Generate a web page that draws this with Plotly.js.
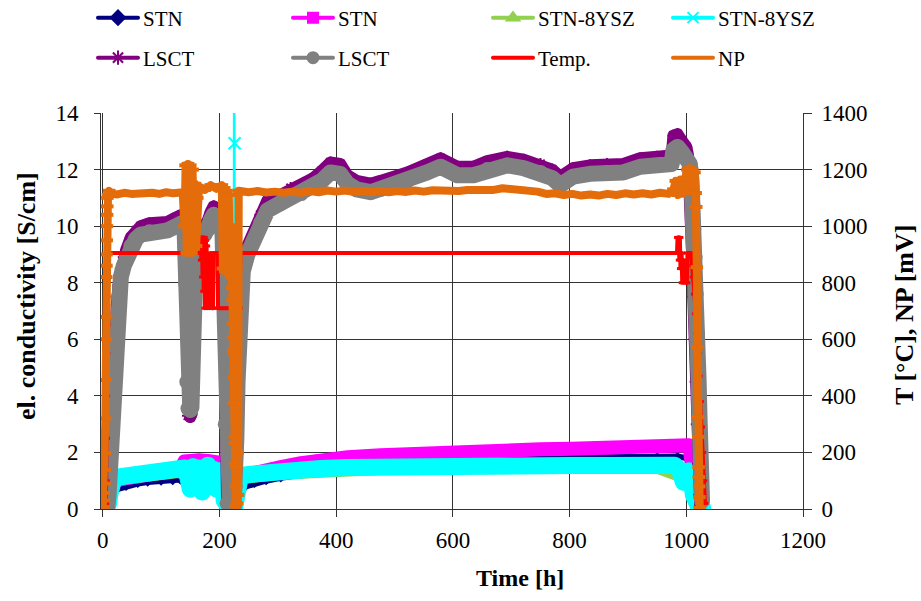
<!DOCTYPE html>
<html>
<head>
<meta charset="utf-8">
<script src="https://cdn.plot.ly/plotly-3.0.1.min.js"></script>
<style>
  html, body { margin: 0; padding: 0; background: #fff; }
  #chart { width: 921px; height: 601px; }
  .js-line { stroke-linejoin: round; stroke-linecap: round; }
</style>
</head>
<body>
<div id="chart"></div>
<script>
// ---- conductivity, STN (navy) ----
const stnA_t = [0, 4, 8, 10, 12, 15, 19, 25, 40, 60, 77, 100, 120, 133, 140, 145, 148, 152, 170, 195, 205, 208, 212, 220, 226, 229, 232, 236, 245, 260, 280, 305, 340, 373, 420, 476, 530, 591, 650, 700, 750, 803, 850, 900, 950, 985, 1000, 1008, 1012, 1016, 1022, 1028];
const stnA_v = [0.05, 0.05, 0.05, 0.1, 0.3, 0.5, 0.62, 0.7, 0.8, 0.9, 0.95, 0.98, 1.0, 1.02, 1.05, 0.6, 0.6, 1.1, 1.15, 1.15, 1.1, 0.3, 0.05, 0.05, 0.05, 0.3, 0.55, 0.72, 0.8, 0.9, 1.0, 1.1, 1.22, 1.3, 1.4, 1.5, 1.58, 1.66, 1.72, 1.76, 1.79, 1.82, 1.83, 1.84, 1.85, 1.86, 1.8, 1.6, 0.8, 0.2, 0.05, 0.05];

// ---- conductivity, STN (magenta) ----
const stnB_t = [0, 5, 9, 11, 13, 16, 19, 30, 50, 77, 100, 120, 133, 140, 150, 165, 180, 195, 205, 208, 212, 220, 226, 229, 233, 236, 250, 270, 305, 340, 373, 420, 476, 530, 591, 650, 700, 750, 803, 850, 900, 960, 995, 1005, 1010, 1014, 1018, 1024, 1028];
const stnB_v = [0.05, 0.05, 0.05, 0.15, 0.45, 0.75, 0.95, 1.05, 1.12, 1.2, 1.27, 1.33, 1.4, 1.68, 1.72, 1.72, 1.7, 1.7, 1.62, 0.4, 0.05, 0.05, 0.05, 0.4, 0.8, 1.1, 1.22, 1.35, 1.48, 1.62, 1.75, 1.83, 1.9, 1.96, 2.02, 2.06, 2.09, 2.11, 2.13, 2.16, 2.19, 2.25, 2.3, 2.25, 1.5, 0.6, 0.2, 0.05, 0.05];

// ---- conductivity, STN-8YSZ (green) ----
const ysA_t = [0, 8, 12, 17, 30, 77, 133, 150, 170, 190, 205, 208, 212, 226, 230, 236, 305, 476, 700, 950, 990, 1005, 1012, 1020];
const ysA_v = [0.05, 0.05, 0.45, 0.95, 1.1, 1.2, 1.35, 1.1, 1.2, 1.1, 1.25, 0.3, 0.05, 0.05, 0.7, 1.12, 1.28, 1.45, 1.48, 1.5, 1.2, 1.3, 0.4, 0.05];

// ---- conductivity, STN-8YSZ (cyan) ----
const ysB_t = [0, 5, 8, 10, 12, 14, 17, 19, 30, 50, 77, 100, 120, 133, 140, 145, 150, 155, 160, 165, 170, 175, 180, 185, 190, 195, 200, 205, 208, 212, 218, 226, 229, 232, 236, 250, 270, 305, 340, 373, 420, 476, 530, 591, 650, 700, 750, 803, 850, 900, 950, 980, 988, 995, 1000, 1005, 1008, 1012, 1016, 1022, 1028];
const ysB_v = [0.05, 0.05, 0.05, 0.2, 0.5, 0.85, 1.02, 1.08, 1.14, 1.19, 1.25, 1.3, 1.35, 1.4, 1.45, 1.2, 0.7, 1.5, 0.9, 1.45, 0.6, 1.3, 1.55, 0.8, 1.4, 0.7, 1.35, 1.3, 0.3, 0.05, 0.05, 0.05, 0.6, 0.9, 1.18, 1.22, 1.27, 1.32, 1.38, 1.43, 1.47, 1.5, 1.5, 1.5, 1.51, 1.52, 1.53, 1.54, 1.54, 1.55, 1.55, 1.55, 1.4, 0.95, 1.0, 1.35, 1.2, 0.5, 0.1, 0.05, 0.05];
// single outlier reading of the cyan sample
const ysB_spike_t = [224, 225, 226, 227];
const ysB_spike_v = [0.1, 20, 12.93, 0.3];

// ---- conductivity, LSCT (purple) ----
const lsA_t = [0, 4, 8, 10, 12, 14, 16, 18, 20, 22, 24, 27, 31, 36, 40, 48, 57, 65, 80, 95, 111, 125, 135, 140, 142, 144, 146, 150, 152, 154, 156, 160, 166, 170, 175, 180, 185, 190, 196, 200, 205, 208, 210, 213, 218, 224, 227, 229, 231, 233, 236, 240, 248, 259, 270, 282, 295, 305, 322, 340, 361, 375, 390, 407, 419, 435, 459, 476, 493, 522, 556, 579, 608, 635, 659, 693, 721, 750, 770, 784, 806, 835, 864, 892, 921, 950, 967, 975, 978, 985, 993, 1000, 1003, 1006, 1008, 1010, 1012, 1014, 1016, 1018, 1020, 1022, 1024];
const lsA_v = [0.1, 0.1, 0.2, 0.8, 2.0, 3.0, 4.0, 5.0, 5.8, 6.5, 7.2, 7.9, 8.5, 8.9, 9.15, 9.6, 9.85, 10.0, 10.1, 10.1, 10.15, 10.3, 10.4, 10.3, 8.2, 4.5, 3.3, 3.25, 3.35, 6.2, 9.2, 9.7, 9.8, 9.9, 10.0, 10.2, 10.5, 10.7, 10.6, 10.4, 10.2, 7.8, 3.2, 0.2, 0.1, 0.1, 0.9, 2.7, 4.8, 6.8, 7.9, 8.7, 9.3, 9.8, 10.4, 10.9, 11.0, 11.1, 11.35, 11.45, 11.7, 11.95, 12.25, 12.2, 11.8, 11.6, 11.5, 11.6, 11.7, 11.9, 12.2, 12.4, 12.1, 12.1, 12.3, 12.45, 12.35, 12.2, 12.0, 11.75, 12.05, 12.15, 12.2, 12.2, 12.4, 12.45, 12.5, 12.5, 13.2, 13.25, 13.0, 12.8, 12.5, 11.5, 10.2, 9.0, 7.5, 6.0, 4.5, 3.0, 1.6, 0.5, 0.1];

// ---- conductivity, LSCT (grey) ----
const lsB_t = [0, 4, 8, 10, 12, 14, 16, 18, 20, 22, 24, 27, 31, 36, 40, 48, 57, 65, 80, 95, 111, 125, 135, 140, 142, 144, 146, 150, 152, 154, 156, 160, 166, 170, 175, 180, 185, 190, 196, 200, 205, 208, 210, 213, 218, 224, 227, 229, 231, 233, 236, 240, 248, 259, 270, 282, 295, 305, 322, 340, 361, 375, 390, 407, 419, 435, 459, 476, 493, 522, 556, 579, 608, 635, 659, 693, 721, 750, 770, 784, 806, 835, 864, 892, 921, 950, 967, 975, 978, 985, 993, 1000, 1006, 1009, 1011, 1013, 1015, 1017, 1019, 1021, 1023, 1025, 1027];
const lsB_v = [0.1, 0.1, 0.1, 0.5, 1.5, 2.5, 3.5, 4.45, 5.3, 6.0, 6.8, 7.5, 8.2, 8.6, 8.85, 9.3, 9.55, 9.7, 9.8, 9.8, 9.85, 10.0, 10.1, 10.0, 8.0, 4.5, 3.55, 3.5, 3.6, 6.0, 9.0, 9.4, 9.5, 9.6, 9.7, 9.9, 10.2, 10.4, 10.3, 10.1, 9.9, 7.5, 3.0, 0.2, 0.1, 0.1, 0.8, 2.5, 4.5, 6.5, 7.6, 8.4, 9.0, 9.5, 10.1, 10.55, 10.7, 10.8, 11.05, 11.15, 11.4, 11.6, 11.9, 11.85, 11.5, 11.3, 11.2, 11.3, 11.4, 11.6, 11.9, 12.1, 11.8, 11.8, 12.0, 12.15, 12.05, 11.9, 11.7, 11.45, 11.75, 11.85, 11.9, 11.9, 12.1, 12.15, 12.2, 12.2, 12.7, 12.8, 12.6, 12.4, 12.2, 11.6, 10.8, 9.9, 8.9, 7.6, 6.2, 4.6, 3.0, 1.4, 0.3];

// ---- furnace temperature [°C] ----
const temp_t = [0, 5, 6, 6.3, 6.6, 6.9, 7.2, 7.5, 7.8, 8.2, 12, 60, 120, 167, 168, 169, 170, 171, 172, 173, 174, 175, 176, 178, 179, 181, 183, 185, 187, 189, 190, 197, 197.5, 205, 215, 222, 224, 226, 228, 230, 232, 234, 236, 300, 500, 700, 900, 984, 985, 986, 987, 988, 989, 990, 992, 993, 995, 996, 998, 999, 1001, 1002, 1008, 1010, 1012, 1014, 1016, 1018, 1020, 1022, 1024, 1026, 1028, 1030, 1032];
const temp_v = [20, 20, 100, 250, 400, 550, 650, 750, 850, 905, 905, 905, 905, 905, 960, 880, 960, 820, 960, 770, 960, 710, 950, 930, 710, 900, 710, 905, 710, 710, 905, 905, 710, 710, 710, 710, 905, 710, 905, 710, 905, 710, 905, 905, 905, 905, 905, 905, 960, 905, 960, 880, 960, 850, 905, 800, 880, 800, 860, 800, 800, 905, 905, 860, 820, 760, 690, 620, 550, 470, 380, 290, 200, 100, 20];

// ---- Nernst potential [mV] ----
const np_t = [0, 1, 2, 3, 3.5, 4, 4.5, 5, 5.3, 5.6, 5.9, 6.2, 6.5, 6.8, 7.1, 7.4, 7.7, 8, 9, 11,
  14, 25, 37, 49, 61, 73, 85, 97, 109, 121, 133,
  137, 140, 142, 144, 146, 148, 150, 152, 154, 156, 158, 160, 162, 165,
  175, 185, 195, 204,
  206, 208, 210, 212, 214, 216, 218, 220, 221, 222, 222.5, 223, 223.5, 224, 224.5, 225, 225.5, 226, 226.5, 227, 227.5, 228, 229, 230, 231, 232, 233,
  236, 250, 265, 280, 295, 310, 325, 340, 355, 370, 385, 400, 415, 430, 445, 460, 475, 490, 505, 520, 535, 550, 565, 580, 595, 610, 625, 640, 655, 670, 685, 700, 715, 730, 745, 760, 775, 790, 805, 820, 835, 850, 865, 880, 895, 910, 925, 940, 955, 970,
  978, 982, 986, 990, 994, 998, 1002, 1004, 1006, 1008, 1010, 1012, 1014, 1016, 1017, 1018, 1019, 1020, 1020.5, 1021, 1021.5, 1022, 1022.5, 1023];
const np_v = [5, 57, 30, 90, 138, 198, 320, 456, 600, 679, 820, 860, 900, 950, 1000, 1040, 1070, 1100, 1110, 1125,
  1115, 1112, 1118, 1114, 1117, 1113, 1118, 1114, 1120, 1116, 1122,
  1120, 1000, 1215, 905, 1220, 910, 1215, 905, 1200, 920, 1150, 930, 1100, 1140,
  1128, 1145, 1132, 1145,
  850, 1135, 840, 1125, 835, 1110, 845, 1000, 820, 781, 739, 657, 608, 562, 551, 467, 375, 255, 233, 160, 80, 10, 150, 20, 200, 50, 1125,
  1124, 1120, 1124, 1119, 1122, 1118, 1122, 1118, 1124, 1120, 1126, 1122, 1126, 1121, 1124, 1120, 1124, 1120, 1124, 1121, 1126, 1122, 1127, 1124, 1127, 1124, 1128, 1126, 1130, 1128, 1134, 1132, 1132, 1124, 1122, 1114, 1116, 1110, 1114, 1108, 1112, 1108, 1114, 1110, 1116, 1112, 1116, 1112, 1118, 1114,
  1130, 1160, 1110, 1165, 1115, 1170, 1200, 1130, 1205, 1125, 1200, 1120, 1190, 1117, 1068, 855, 573, 325, 255, 148, 113, 80, 42, 4];

const FONT = 'Liberation Serif';
const C = {
  navy: '#000080', magenta: '#FF00FF', green: '#92D050', cyan: '#00FFFF',
  purple: '#800080', grey: '#808080', red: '#FF0000', orange: '#E46C0A'
};

const traces = [
  { x: stnA_t, y: stnA_v, mode: 'lines+markers', line: { color: C.navy, width: 6 },
    marker: { symbol: 'diamond', size: 7, color: C.navy }, showlegend: false, hoverinfo: 'skip' },
  { x: stnB_t, y: stnB_v, mode: 'lines+markers', line: { color: C.magenta, width: 14 },
    marker: { symbol: 'square', size: 10, color: C.magenta }, showlegend: false, hoverinfo: 'skip' },
  { x: ysA_t, y: ysA_v, mode: 'lines+markers', line: { color: C.green, width: 14 },
    marker: { symbol: 'triangle-up', size: 10, color: C.green }, showlegend: false, hoverinfo: 'skip' },
  { x: ysB_t, y: ysB_v, mode: 'lines+markers', line: { color: C.cyan, width: 17 },
    marker: { symbol: 'x-thin-open', size: 10, color: C.cyan, line: { width: 2, color: C.cyan } }, showlegend: false, hoverinfo: 'skip' },
  { x: ysB_spike_t, y: ysB_spike_v, mode: 'lines+markers', line: { color: C.cyan, width: 2 },
    marker: { symbol: 'x-thin-open', size: 12, color: C.cyan, line: { width: 2, color: C.cyan } }, showlegend: false, hoverinfo: 'skip' },
  { x: lsA_t, y: lsA_v, mode: 'lines+markers', line: { color: C.purple, width: 12 },
    marker: { symbol: 'asterisk-open', size: 10, color: C.purple, line: { width: 2, color: C.purple } }, showlegend: false, hoverinfo: 'skip' },
  { x: lsB_t, y: lsB_v, mode: 'lines+markers', line: { color: C.grey, width: 16 },
    marker: { symbol: 'circle', size: 15, color: C.grey }, showlegend: false, hoverinfo: 'skip' },
  { x: temp_t, y: temp_v, yaxis: 'y2', mode: 'lines+markers', line: { color: C.red, width: 4 },
    marker: { symbol: 'line-ew-open', size: 5, color: C.red, line: { width: 3, color: C.red } }, showlegend: false, hoverinfo: 'skip' },
  { x: np_t, y: np_v, yaxis: 'y2', mode: 'lines+markers', line: { color: C.orange, width: 8 },
    marker: { symbol: 'line-ew-open', size: 9, color: C.orange, line: { width: 4, color: C.orange } }, showlegend: false, hoverinfo: 'skip' }
];

// legend keys: each in its own legend box, laid out in two rows of four
function key(name, color, symbol, size, legend, yaxis) {
  return {
    x: [null], y: [null], name: name, legend: legend, yaxis: yaxis || 'y',
    mode: 'lines+markers', line: { color: color, width: 4 },
    marker: { symbol: symbol, size: size, color: color, line: { width: 2, color: color } },
    hoverinfo: 'skip'
  };
}
traces.push(
  key('STN', C.navy, 'diamond', 11, 'legend'),
  key('STN', C.magenta, 'square', 10, 'legend2'),
  key('STN-8YSZ', C.green, 'triangle-up', 11, 'legend3'),
  key('STN-8YSZ', C.cyan, 'x-thin-open', 11, 'legend4'),
  key('LSCT', C.purple, 'asterisk-open', 12, 'legend5'),
  key('LSCT', C.grey, 'circle', 11, 'legend6'),
  key('Temp.', C.red, 'line-ew-open', 4, 'legend7', 'y2'),
  key('NP', C.orange, 'line-ew-open', 4, 'legend8', 'y2')
);

const colX = [93, 288, 488, 668];   // left edge of each legend column, px
const rowY = [18, 58];              // centre line of each legend row, px
function legendAt(col, row) {
  return {
    orientation: 'h', xref: 'container', yref: 'container',
    xanchor: 'left', yanchor: 'middle',
    x: colX[col] / 921, y: 1 - rowY[row] / 601, itemwidth: 40,
    font: { family: FONT, size: 21, color: '#000' },
    bgcolor: 'rgba(0,0,0,0)', itemclick: false, itemdoubleclick: false
  };
}

const layout = {
  width: 921, height: 601,
  margin: { l: 101, r: 118, t: 113, b: 92, pad: 0, autoexpand: false },
  paper_bgcolor: '#fff', plot_bgcolor: '#fff',
  font: { family: FONT, size: 23, color: '#000' },
  showlegend: true,
  legend: legendAt(0, 0), legend2: legendAt(1, 0), legend3: legendAt(2, 0), legend4: legendAt(3, 0),
  legend5: legendAt(0, 1), legend6: legendAt(1, 1), legend7: legendAt(2, 1), legend8: legendAt(3, 1),
  xaxis: {
    range: [-3, 1200], tick0: 0, dtick: 200, showgrid: true, gridcolor: '#333', gridwidth: 1,
    zeroline: false, showline: true, linecolor: '#333', linewidth: 1,
    ticks: 'outside', ticklen: 7, tickcolor: '#333', ticklabelstandoff: 3,
    tickfont: { family: FONT, size: 23, color: '#000' }
  },
  yaxis: {
    range: [0, 14], tick0: 0, dtick: 2, showgrid: true, gridcolor: '#333', gridwidth: 1,
    zeroline: false, showline: true, linecolor: '#333', linewidth: 1,
    ticks: 'outside', ticklen: 6, tickcolor: '#333', ticklabelstandoff: 11,
    tickfont: { family: FONT, size: 23, color: '#000' }
  },
  yaxis2: {
    range: [0, 1400], tick0: 0, dtick: 200, overlaying: 'y', side: 'right', showgrid: false,
    zeroline: false, showline: true, linecolor: '#333', linewidth: 1,
    ticks: 'outside', ticklen: 8, tickcolor: '#333', ticklabelstandoff: 5,
    tickfont: { family: FONT, size: 23, color: '#000' }
  },
  annotations: [
    { text: '<b>el. conductivity [S/cm]</b>', xref: 'paper', yref: 'paper', x: -0.1054, y: 0.538,
      textangle: -90, showarrow: false, xanchor: 'center', yanchor: 'middle',
      font: { family: FONT, size: 26, color: '#000' } },
    { text: '<b>T [°C], NP [mV]</b>', xref: 'paper', yref: 'paper', x: 1.1453, y: 0.49,
      textangle: -90, showarrow: false, xanchor: 'center', yanchor: 'middle',
      font: { family: FONT, size: 26, color: '#000' } },
    { text: '<b>Time [h]</b>', xref: 'paper', yref: 'paper', x: 0.597, y: -0.174,
      showarrow: false, xanchor: 'center', yanchor: 'middle',
      font: { family: FONT, size: 24, color: '#000' } }
  ]
};

Plotly.newPlot('chart', traces, layout, { displayModeBar: false, staticPlot: true });
</script>
</body>
</html>
